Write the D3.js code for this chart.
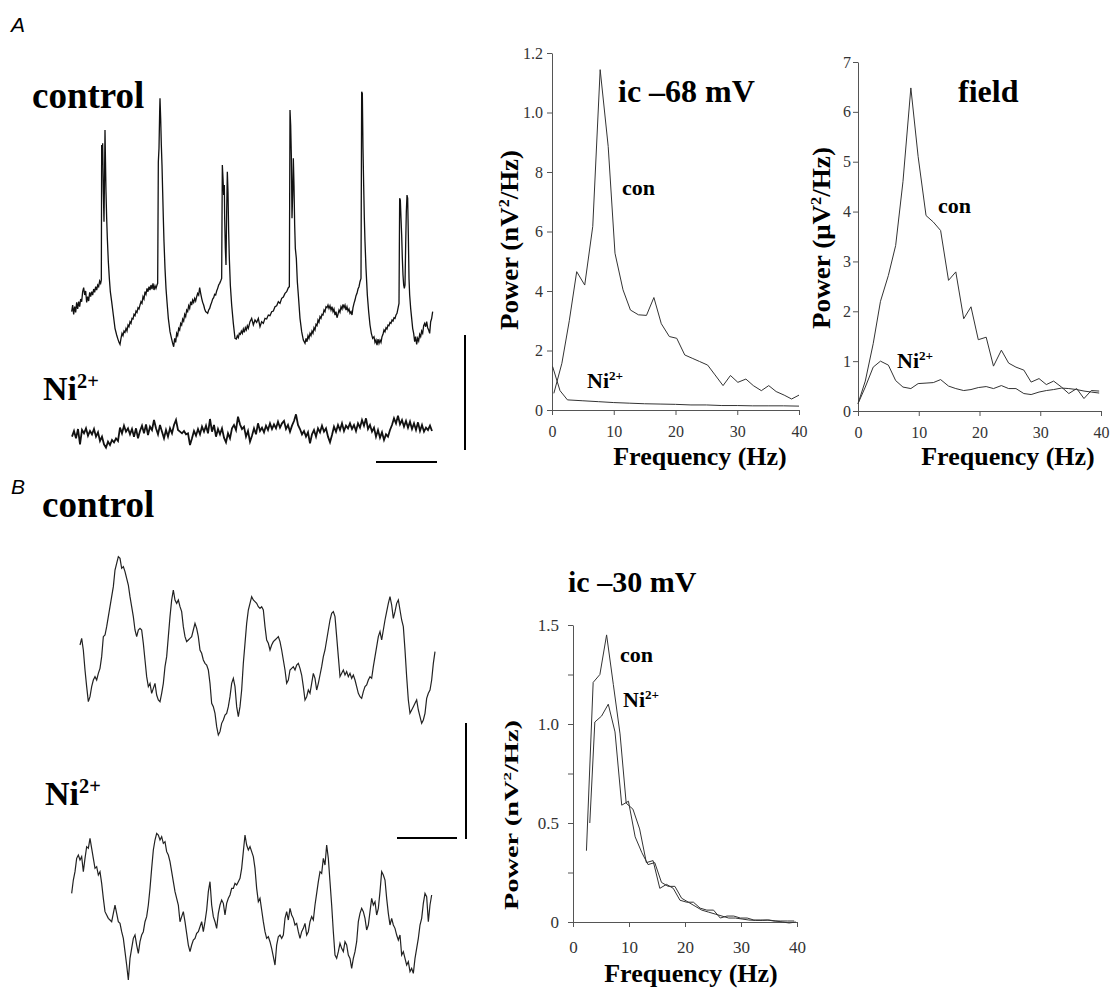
<!DOCTYPE html>
<html>
<head>
<meta charset="utf-8">
<script src="https://cdn.jsdelivr.net/npm/d3@7"></script>
<style>
  body { margin: 0; background: #fff; }
  svg { display: block; }
</style>
</head>
<body>
<div id="fig"></div>
<script>
// ---------- data ----------
// A: intracellular trace at -68 mV, control. [time (sample units), amplitude (digitised units)]
const aCtrlTrace = [[20,120],[23,140],[26,112],[29,135],[32,118],[35,148],[38,128],[41,150],[44,135],[47,158],[50,150],[53,180],[56,192],[59,170],[62,182],[65,148],[68,165],[71,152],[74,178],[77,165],[80,180],[83,170],[86,188],[89,178],[92,195],[95,185],[98,200],[101,195],[104,212],[107,205],[109,215],
  [110,620],[112,560],[113,625],[115,480],[117,390],[119,560],[120,665],[121,600],[123,480],[125,400],[127,340],[130,270],
  [133,220],[136,180],[140,150],[145,110],[150,70],[155,50],[158,40],[162,28],[165,22],[168,40],[171,55],[174,48],[177,62],[180,58],[183,70],[186,62],[189,80],[192,75],[195,90],[198,85],[201,100],[204,98],[207,112],[210,108],[213,122],[216,118],[219,132],[222,128],[225,140],[228,150],[231,145],[234,165],[237,158],[240,180],[243,172],[246,190],[249,180],[252,195],[255,185],[258,200],[261,188],[264,205],[267,185],[270,198],[273,190],[276,200],[278,205],
  [280,570],[282,610],[284,720],[285,760],[287,700],[289,620],[291,560],[293,480],[295,400],[297,330],[300,250],[303,190],[306,150],[310,100],[315,60],[320,38],[323,25],[326,15],[329,40],[332,28],[335,55],[338,48],[341,70],[344,65],[347,85],[350,80],[353,98],[356,92],[359,112],[362,105],[365,125],[368,120],[371,138],[374,130],[377,150],[380,140],[383,155],[386,148],[389,160],[392,152],[395,165],[398,175],[401,170],[404,192],[407,175],[410,160],[413,148],[416,140],[419,128],[422,120],[425,118],[428,115],[431,125],[434,130],[437,140],[440,148],[443,158],[446,162],[449,172],[452,170],[455,182],[458,190],[461,200],[464,205],[467,212],[470,220],
  [472,560],[474,520],[476,470],[478,500],[479,400],[481,310],[483,260],[485,420],[487,540],[489,480],[491,360],[493,280],[496,200],[500,140],[505,85],[510,40],[514,38],[517,48],[520,42],[523,55],[526,52],[529,62],[532,55],[535,68],[538,58],[541,72],[544,65],[547,78],[550,70],[553,82],
  [555,90],[560,100],[565,80],[570,95],[575,88],[580,100],[585,75],[590,90],[595,85],[600,100],[605,98],[610,110],[615,108],[620,120],[625,122],[630,135],[635,138],[640,150],[645,145],[650,160],[655,164],[660,175],[665,180],[670,192],[673,195],
  [675,725],[677,680],[679,590],[681,400],[683,470],[685,580],[687,500],[689,380],[691,310],[694,280],[697,210],[700,170],[705,100],[710,60],[715,35],[720,25],[723,40],[726,30],[729,48],[732,40],[735,55],[738,48],[741,62],[744,55],[747,72],[750,65],[753,82],[756,78],[759,95],[762,88],[765,105],[768,100],[771,112],[774,110],[777,125],[780,120],[783,135],[786,132],[789,140],[792,130],[795,138],[798,125],[801,135],[804,120],[807,128],[810,110],[813,120],[816,102],[819,112],[822,125],[825,118],[828,135],[831,128],[834,142],[837,132],[840,140],[843,125],[846,135],[849,122],[852,128],[855,115],[858,120],[861,110],[864,132],[867,145],[870,155],[873,168],[876,175],[879,188],[882,195],[885,210],[888,220],
  [890,780],[892,775],[894,610],[896,500],[898,400],[900,330],[903,250],[907,170],[911,120],[915,80],[919,55],[923,40],[927,45],[930,28],[933,35],[936,20],[939,38],[942,25],[945,35],[948,28],[951,45],[954,52],[957,65],[960,60],[963,72],[966,68],[969,80],[972,78],[975,88],[978,85],[981,95],[984,92],[987,102],[990,100],[993,110],[996,115],[999,130],[1002,145],
  [1004,460],[1006,455],[1008,400],[1010,350],[1012,280],[1014,230],[1016,200],[1018,190],[1020,200],[1022,320],[1024,420],[1026,470],[1028,460],[1030,350],[1032,220],[1034,170],[1037,130],[1040,100],[1043,70],[1046,55],[1049,30],[1052,45],[1055,22],[1058,40],[1061,32],[1064,52],[1067,45],[1070,62],[1073,55],[1076,78],[1079,85],[1082,75],[1085,90],[1088,72],[1091,65],[1094,55],[1097,90],[1100,100],[1103,120]];

// A: Ni2+ trace, evenly sampled (start 21, step 6)
const aNiStart = 21, aNiStep = 6;
const aNiTrace = [40,57,35,63,17,60,50,65,43,57, 47,63,40,53,27,40,17,7,25,15,
  30,23,35,27,67,50,73,55,65,47, 63,40,65,35,57,73,50,77,45,70,
  60,90,65,47,75,55,35,60,40,65, 50,75,90,60,55,50,57,47,50,15,
  35,57,43,63,47,70,55,73,50,93, 55,75,40,63,47,65,37,23,50,35,
  65,75,60,100,77,63,70,40,57,25,
  43,65,47,80,57,67,53,73,60,80, 63,77,65,85,67,80,87,63,75,55,
  73,87,107,75,63,47,57,40,53,20, 47,60,40,65,53,73,55,65,40,23,
  45,70,55,75,60,80,57,73,65,80, 63,75,57,80,67,90,73,95,63,75,
  55,67,40,60,37,53,30,47,40,60, 75,95,80,103,77,90,70,87,67,85,
  63,80,60,83,57,75,55,67,60,73, 57];

// B: trace at -30 mV, control (start 45, step 5)
const bCtrlStart = 45, bCtrlStep = 5;
const bCtrlTrace = [315,335,300,240,190,145,160,190,210,220, 210,230,245,280,340,345,370,400,430,460,
  490,540,560,580,575,545,550,535,515,495, 460,430,400,360,340,360,365,360,320,270,
  220,190,200,170,185,200,165,150,145,170, 200,250,280,340,400,450,480,450,440,450,
  430,415,370,340,325,330,335,340,360,380, 365,340,300,290,270,260,255,240,200,140,
  130,110,70,45,55,80,90,105,110,130, 160,200,215,190,130,100,130,180,260,320,
  380,420,440,460,450,445,440,430,425,430, 420,370,330,320,300,315,325,330,335,340,
  325,300,270,240,200,210,240,245,250,240, 255,260,245,225,190,150,160,180,170,200,
  230,215,180,200,225,250,280,300,330,360, 390,410,415,400,340,280,220,230,240,225,
  235,220,230,215,225,210,190,170,160,155, 175,190,195,210,220,215,250,280,310,340,
  355,330,360,390,415,440,460,435,395,415, 440,450,420,390,370,300,220,150,110,120,
  130,140,150,120,100,80,90,110,155,170, 180,210,260,295];

// B: Ni2+ trace (start 20, step 5)
const bNiStart = 20, bNiStep = 5;
const bNiTrace = [295,335,360,400,410,395,405,360,400,435, 430,460,430,400,370,375,350,360,325,280,
  240,230,220,215,210,235,260,235,210,205, 180,160,120,80,35,100,130,160,170,140,
  115,150,170,180,210,225,260,310,370,425, 455,475,470,455,465,445,450,420,410,390,
  360,330,300,280,260,210,225,240,210,175, 140,120,140,155,160,175,180,195,210,180,
  210,245,300,330,260,225,210,190,235,260, 275,265,230,265,280,290,310,310,325,320,
  330,340,370,420,470,440,425,435,420,405, 370,310,270,280,245,210,180,160,165,150,
  130,105,80,140,165,170,160,170,220,240, 215,250,230,220,200,205,180,160,180,190,
  205,170,180,210,225,215,260,295,330,360, 355,400,380,440,400,330,260,180,110,100,
  120,145,130,120,150,140,110,100,70,100, 120,150,210,235,250,240,220,185,200,240,
  280,260,270,230,250,300,360,350,335,280, 235,200,220,200,190,170,155,170,110,120,
  100,80,90,60,70,55,100,130,160,200, 220,265,295,285,210,260,290];

// power spectra [Hz, power]
const psdA68Con = [[0.3,0.056],[1.6,0.157],[2.8,0.30],[4.0,0.465],[5.3,0.42],[6.6,0.617],[7.8,1.144],[9.1,0.886],[10.2,0.527],[11.5,0.404],[12.7,0.336],[14.0,0.32],[15.3,0.318],[16.5,0.378],[17.7,0.29],[19.0,0.247],[20.2,0.241],[21.5,0.185],[22.7,0.174],[23.9,0.163],[25.2,0.151],[26.4,0.118],[27.7,0.082],[28.9,0.116],[30.1,0.093],[31.4,0.104],[32.6,0.082],[33.9,0.065],[35.1,0.082],[36.3,0.062],[37.6,0.05],[38.8,0.037],[40.0,0.05]];
const psdA68Ni = [[0.1,0.146],[1.3,0.065],[2.5,0.034],[5.0,0.031],[7.5,0.028],[10.0,0.025],[12.5,0.023],[15.0,0.021],[17.5,0.02],[20.0,0.019],[22.5,0.017],[25.0,0.017],[27.5,0.015],[30.0,0.015],[32.5,0.014],[35.0,0.014],[37.5,0.014],[40.0,0.013]];
const psdFieldCon = [[0,0.147],[1.2,0.6],[2.5,1.35],[3.7,2.2],[5.0,2.72],[6.2,3.32],[7.4,4.6],[8.7,6.48],[9.9,5.1],[11.2,3.92],[12.4,3.79],[13.6,3.62],[14.9,2.62],[16.1,2.79],[17.4,1.85],[18.6,2.09],[19.8,1.43],[21.1,1.48],[22.3,0.9],[23.6,1.22],[24.8,0.96],[26.0,0.88],[27.3,0.82],[28.5,0.58],[29.8,0.65],[31.0,0.53],[32.2,0.6],[33.5,0.48],[34.7,0.35],[36.0,0.45],[37.2,0.25],[38.4,0.41],[39.7,0.40]];
const psdFieldNi = [[0,0.147],[1.2,0.48],[2.5,0.88],[3.7,1.0],[5.0,0.92],[6.2,0.61],[7.4,0.48],[8.7,0.45],[9.9,0.55],[11.2,0.56],[12.4,0.57],[13.6,0.63],[14.9,0.5],[16.1,0.45],[17.4,0.41],[18.6,0.43],[19.8,0.47],[21.1,0.49],[22.3,0.45],[23.6,0.51],[24.8,0.45],[26.0,0.45],[27.3,0.35],[28.5,0.33],[29.8,0.38],[31.0,0.41],[32.2,0.43],[33.5,0.46],[34.7,0.45],[36.0,0.43],[37.2,0.4],[38.4,0.38],[39.7,0.36]];
const psdB30Con = [[2.4,0.36],[3.6,1.21],[4.8,1.25],[6.0,1.45],[7.2,1.2],[8.4,0.95],[9.5,0.6],[10.7,0.57],[11.9,0.47],[13.1,0.3],[14.3,0.31],[15.5,0.17],[16.7,0.19],[17.9,0.17],[19.1,0.11],[20.3,0.1],[21.5,0.1],[22.7,0.07],[23.9,0.06],[25.1,0.06],[26.3,0.02],[27.5,0.03],[28.7,0.03],[29.9,0.02],[31.1,0.02],[32.3,0.01],[33.5,0.01],[34.7,0.01],[35.9,0.005],[37.1,0.005],[38.3,0.005],[39.5,0.005]];
const psdB30Ni = [[3.0,0.5],[3.9,1.01],[5.1,1.04],[6.3,1.1],[7.5,0.96],[8.7,0.59],[9.9,0.61],[11.1,0.43],[12.3,0.35],[13.4,0.29],[14.6,0.3],[15.8,0.2],[17.0,0.18],[18.2,0.18],[19.4,0.12],[20.6,0.1],[21.8,0.08],[23.0,0.06],[24.2,0.05],[25.4,0.04],[26.6,0.03],[27.8,0.02],[29.0,0.02],[30.2,0.015],[31.4,0.01],[32.6,0.008],[33.8,0.008],[35.0,0.01],[36.2,0.005],[37.4,0.0],[38.6,-0.005],[39.8,0.0]];

// axis ticks and labels
const freqTicks = [0, 10, 20, 30, 40];
const a68Ticks = [0, 0.2, 0.4, 0.6, 0.8, 1.0, 1.2];
const a68TickLabels = ["0", "2", "4", "6", "8", "1.0", "1.2"];
const fieldTicks = [0, 1, 2, 3, 4, 5, 6, 7];
const fieldTickLabels = ["0", "1", "2", "3", "4", "5", "6", "7"];
const b30Ticks = [0, 0.25, 0.5, 0.75, 1.0, 1.25, 1.5];
const b30TickLabels = ["0", "", "0.5", "", "1.0", "", "1.5"];

// ---------- drawing ----------
const serif = '"Liberation Serif","Times New Roman",serif';
const sans = '"Liberation Sans",Arial,sans-serif';

const svg = d3.select('#fig').append('svg')
  .attr('width', 1118).attr('height', 989)
  .style('background', '#fff');

//text with optional superscript parts: parts = [[string, isSup], ...]
function richText(parent, x, y, parts, size) {
  const t = parent.append('text')
    .attr('x', x).attr('y', y)
    .style('font-family', serif).attr('font-weight', 'bold')
    .attr('font-size', size).attr('fill', '#000');
  let up = false;
  parts.forEach(p => {
    const s = t.append('tspan').text(p[0]);
    if (p[1] && !up) { s.attr('font-size', size * 0.6).attr('dy', -size * 0.36); up = true; }
    else if (p[1]) { s.attr('font-size', size * 0.6); }
    else if (up) { s.attr('dy', size * 0.36); up = false; }
  });
  return t;
}

//rotated axis title, stretched to the length seen in the picture
function yTitle(parent, cx, cy, parts, size, len) {
  const g = parent.append('g');
  const t = richText(g, 0, 0, parts, size).attr('text-anchor', 'middle');
  const w = t.node().getComputedTextLength();
  const sx = len ? len / w : 1;
  g.attr('transform', `translate(${cx},${cy}) rotate(-90) scale(${sx},1)`);
}

// panel letters
svg.append('text').attr('x', 11).attr('y', 32).style('font-family', sans)
  .attr('font-style', 'italic').attr('font-size', 21).text('A');
svg.append('text').attr('x', 11).attr('y', 494).style('font-family', sans)
  .attr('font-style', 'italic').attr('font-size', 21).text('B');

// ---- panel A traces ----
const xA = d3.scaleLinear().domain([0, 1110]).range([65, 435]);
const yACtrl = d3.scaleLinear().domain([0, 800]).range([351.7, 85]);
const yANi = d3.scaleLinear().domain([0, 135]).range([450, 405]);

svg.append('path').datum(aCtrlTrace)
  .attr('d', d3.line().x(d => xA(d[0])).y(d => yACtrl(d[1])))
  .attr('fill', 'none').attr('stroke', '#111').attr('stroke-width', 1.3);

svg.append('path').datum(aNiTrace)
  .attr('d', d3.line().x((d, i) => xA(aNiStart + i * aNiStep)).y(d => yANi(d)))
  .attr('fill', 'none').attr('stroke', '#111').attr('stroke-width', 1.8);

richText(svg, 32, 108, [['control']], 37);
richText(svg, 43, 400, [['Ni'], ['2+', true]], 34);

// scale bars (trace units)
svg.append('line').attr('x1', xA(1200)).attr('x2', xA(1200))
  .attr('y1', yANi(0)).attr('y2', yANi(345)).attr('stroke', '#000').attr('stroke-width', 2);
svg.append('line').attr('x1', xA(933)).attr('x2', xA(1116))
  .attr('y1', yANi(-36)).attr('y2', yANi(-36)).attr('stroke', '#000').attr('stroke-width', 2);

// ---- panel B traces ----
const xB = d3.scaleLinear().domain([0, 1110]).range([65, 435]);
const yBCtrl = d3.scaleLinear().domain([0, 600]).range([750, 550]);
const yBNi = d3.scaleLinear().domain([0, 500]).range([991.7, 825]);

svg.append('path').datum(bCtrlTrace)
  .attr('d', d3.line().x((d, i) => xB(bCtrlStart + i * bCtrlStep)).y(d => yBCtrl(d)))
  .attr('fill', 'none').attr('stroke', '#222').attr('stroke-width', 1.2);

svg.append('path').datum(bNiTrace)
  .attr('d', d3.line().x((d, i) => xB(bNiStart + i * bNiStep)).y(d => yBNi(d)))
  .attr('fill', 'none').attr('stroke', '#222').attr('stroke-width', 1.2);

richText(svg, 42, 517, [['control']], 37);
richText(svg, 45, 805, [['Ni'], ['2+', true]], 34);

svg.append('line').attr('x1', xB(1203)).attr('x2', xB(1203))
  .attr('y1', yBNi(458)).attr('y2', yBNi(806)).attr('stroke', '#000').attr('stroke-width', 2);
svg.append('line').attr('x1', xB(996)).attr('x2', xB(1176))
  .attr('y1', yBNi(461)).attr('y2', yBNi(461)).attr('stroke', '#000').attr('stroke-width', 2);

// ---- power spectra ----
function drawPsd(o) {
  const g = svg.append('g');
  const x = d3.scaleLinear().domain([0, 40]).range(o.xRange);
  const y = d3.scaleLinear().domain(o.yDomain).range(o.yRange);

  const gx = g.append('g').attr('transform', `translate(0,${y(0)})`)
    .call(d3.axisBottom(x).tickValues(freqTicks).tickSize(5).tickSizeOuter(0).tickPadding(o.xPad));
  const gy = g.append('g').attr('transform', `translate(${x(0)},0)`)
    .call(d3.axisLeft(y).tickValues(o.yTicks).tickFormat((d, i) => o.yLabels[i])
      .tickSize(5).tickSizeOuter(0).tickPadding(o.yPad));
  [gx, gy].forEach(a => {
    a.attr('font-size', o.tickSize);
    a.selectAll('path, line').attr('stroke', '#555');
    a.selectAll('text').style('font-family', serif).attr('fill', '#333');
  });

  const line = d3.line().x(d => x(d[0])).y(d => y(d[1]));
  o.series.forEach(s => {
    g.append('path').datum(s).attr('d', line)
      .attr('fill', 'none').attr('stroke', '#333').attr('stroke-width', 1);
  });

  richText(g, o.title[0], o.title[1], [[o.title[2]]], o.title[3]);
  richText(g, o.con[0], o.con[1], [['con']], 22);
  richText(g, o.ni[0], o.ni[1], [['Ni'], ['2+', true]], 22);
  richText(g, o.xTitle[0], o.xTitle[1], [['Frequency (Hz)']], 26).attr('text-anchor', 'middle');
  yTitle(g, o.yTitle[0], o.yTitle[1], o.yTitle[2], o.yTitle[3], o.yTitle[4]);
}

drawPsd({
  xRange: [552, 799], yRange: [410, 53], yDomain: [0, 1.2],
  yTicks: a68Ticks, yLabels: a68TickLabels, xPad: 11, yPad: 4, tickSize: 16,
  series: [psdA68Con, psdA68Ni],
  title: [618, 102, 'ic \u201368 mV', 32],
  con: [622, 195], ni: [587, 388],
  xTitle: [700, 465],
  yTitle: [518, 240, [['Power (nV'], ['2', true], ['/Hz)']], 26, 180]
});

drawPsd({
  xRange: [858, 1101], yRange: [411, 62], yDomain: [0, 7],
  yTicks: fieldTicks, yLabels: fieldTickLabels, xPad: 11, yPad: 2, tickSize: 16,
  series: [psdFieldCon, psdFieldNi],
  title: [958, 102, 'field', 32],
  con: [938, 213], ni: [897, 368],
  xTitle: [1008, 465],
  yTitle: [830, 238, [['Power (\u03bcV'], ['2', true], ['/Hz)']], 26, 182]
});

drawPsd({
  xRange: [573, 797], yRange: [922, 625], yDomain: [0, 1.5],
  yTicks: b30Ticks, yLabels: b30TickLabels, xPad: 14, yPad: 9, tickSize: 17,
  series: [psdB30Con, psdB30Ni],
  title: [568, 592, 'ic \u201330 mV', 30],
  con: [620, 662], ni: [623, 707],
  xTitle: [691, 982],
  yTitle: [518, 815, [['Power (nV'], ['2', true], ['/Hz)']], 19, 190]
});
</script>
</body>
</html>
